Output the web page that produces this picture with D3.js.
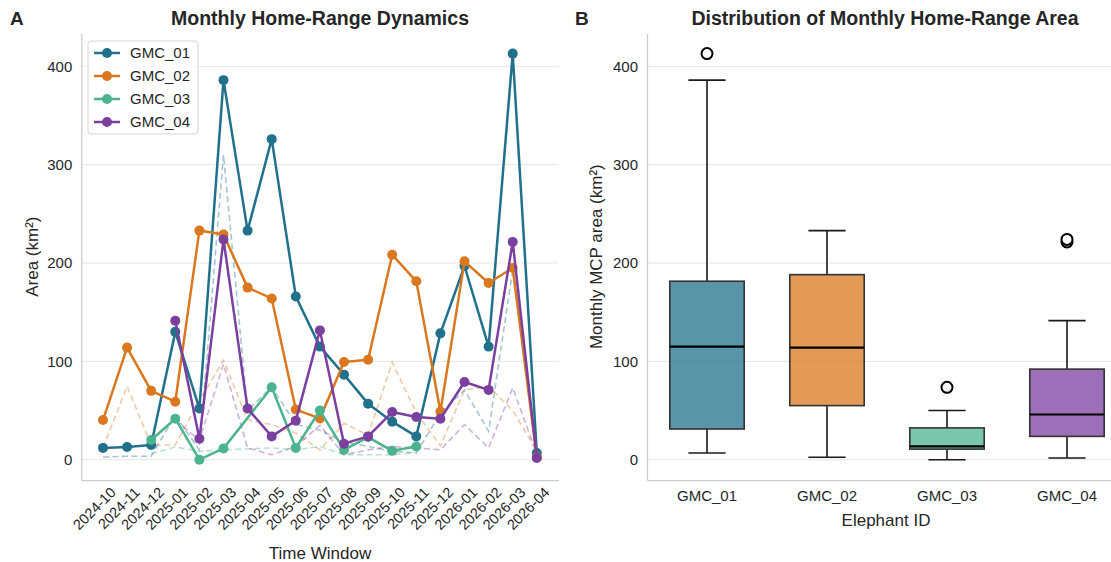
<!DOCTYPE html>
<html>
<head>
<meta charset="utf-8">
<script src="https://cdn.jsdelivr.net/npm/d3@7"></script>
<style>
  html, body { margin: 0; padding: 0; background: #fff; }
  svg { display: block; font-family: "Liberation Sans", Arial, sans-serif; }
</style>
</head>
<body>
<svg id="chart" width="1111" height="562"></svg>
<script>
// ---------------- DATA ----------------
const months = ["2024-10","2024-11","2024-12","2025-01","2025-02","2025-03","2025-04","2025-05","2025-06","2025-07",
                "2025-08","2025-09","2025-10","2025-11","2025-12","2026-01","2026-02","2026-03","2026-04"];
const elephants = ["GMC_01","GMC_02","GMC_03","GMC_04"];
const colors = ["#21718c","#d9781e","#4cb38f","#7b3fa0"];

// Monthly MCP area (solid lines)
const gmc01 = [12, 13, 15, 130, 52, 386, 233, 326, 166, 115, 86.5, 57, 38.7, 23.7, 128.5, 197, 115, 413, 6.8];
const gmc02 = [40.3, 114, 70, 59, 233, 229, 175, 164, 51, 42, 99.4, 101.7, 208.5, 181.4, 49, 201.7, 179.7, 195, 2.5];
const gmc03 = [null, null, 20, 41.7, 0, 11.5, null, 73.6, 12, 50, 10, 23, 9, 13.5, null, null, null, null, null];
const gmc04 = [null, null, null, 141.4, 21.4, 224, 52, 23.7, 39.7, 131.5, 16.3, 23.7, 48.5, 43.4, 41.7, 79, 71, 221.5, 1.7];

// Secondary (dashed, faint) series
const gmc01b = [2.7, 3.5, 3.5, 45, 10, 310, 50, 74, 36, 30, 18, 13.5, 8.5, 7, 47, 71, 29, 193, 7];
const gmc02b = [12, 74.6, 15, 15, 60, 101, 40.7, 35.6, 27, 10, 37, 25, 98.7, 48, 14, 71, 74.6, 50, 9];
const gmc03b = [null, null, 6, 13, 8.5, 10, null, 12, 10, 13.5, 5, 5, 5, 7, null, null, null, null, null];
const gmc04b = [null, null, null, 40, 20, 97, 12, 5, 13.5, 35, 5, 10, 13.5, 12, 10, 35.6, 12, 73, 6];

const yTicks = [0, 100, 200, 300, 400];

const solid = [gmc01, gmc02, gmc03, gmc04];
const dashed = [gmc01b, gmc02b, gmc03b, gmc04b];

// ---------------- SETUP ----------------
const svg = d3.select("#chart");
const textCol = "#262626";
const gridCol = "#e6e6e6";
const spineCol = "#cccccc";
const FONT = "Liberation Sans, Arial, sans-serif";

const yDom = [-20.65, 433.65];
const plotTop = 33.3, plotBottom = 480;

// ---------- Panel A ----------
const xA = d3.scaleLinear().domain([-0.9, months.length - 1 + 0.9]).range([81.3, 558.5]);
const yA = d3.scaleLinear().domain(yDom).range([plotBottom, plotTop]);

const gA = svg.append("g");
gA.selectAll("line.grid").data(yTicks).join("line")
  .attr("x1", xA.range()[0]).attr("x2", xA.range()[1])
  .attr("y1", d => yA(d)).attr("y2", d => yA(d))
  .attr("stroke", gridCol).attr("stroke-width", 1);

const yAxisA = gA.append("g").attr("transform", `translate(${xA.range()[0]},0)`)
  .call(d3.axisLeft(yA).tickValues(yTicks).tickSize(0).tickPadding(9));
yAxisA.select(".domain").attr("stroke", spineCol).attr("stroke-width", 1.25);
yAxisA.selectAll("text").attr("font-size", 15).attr("fill", textCol).attr("font-family", FONT);

const xAxisA = gA.append("g").attr("transform", `translate(0,${plotBottom})`)
  .call(d3.axisBottom(xA).tickValues(d3.range(months.length)).tickFormat(i => months[i]).tickSize(0).tickPadding(8));
xAxisA.select(".domain").attr("stroke", spineCol).attr("stroke-width", 1.25);
xAxisA.selectAll("text")
  .attr("font-size", 14.5).attr("fill", textCol).attr("font-family", FONT)
  .attr("text-anchor", "end")
  .attr("dy", "0.35em")
  .attr("transform", "translate(4,4) rotate(-45)");

const lineGen = d3.line().x(d => xA(d.i)).y(d => yA(d.v));
function pts(arr) { return arr.map((v, i) => ({ i, v })).filter(d => d.v !== null); }

dashed.forEach((arr, k) => {
  gA.append("path").datum(pts(arr))
    .attr("d", lineGen).attr("fill", "none")
    .attr("stroke", colors[k]).attr("stroke-width", 1.6)
    .attr("stroke-opacity", 0.4).attr("stroke-dasharray", "6,3.5");
});
solid.forEach((arr, k) => {
  const g = gA.append("g");
  g.append("path").datum(pts(arr))
    .attr("d", lineGen).attr("fill", "none")
    .attr("stroke", colors[k]).attr("stroke-width", 2.5).attr("stroke-linejoin", "round");
  g.selectAll("circle").data(pts(arr)).join("circle")
    .attr("cx", d => xA(d.i)).attr("cy", d => yA(d.v)).attr("r", 5)
    .attr("fill", colors[k]);
});

// legend
const leg = gA.append("g").attr("transform", "translate(88,41)");
leg.append("rect").attr("x", 0).attr("y", 0).attr("width", 110).attr("height", 93)
  .attr("rx", 3).attr("fill", "#fff").attr("fill-opacity", 0.85).attr("stroke", "#d5d5d5");
elephants.forEach((name, k) => {
  const yy = 12 + k * 23;
  leg.append("line").attr("x1", 6).attr("x2", 32).attr("y1", yy).attr("y2", yy)
    .attr("stroke", colors[k]).attr("stroke-width", 2.5);
  leg.append("circle").attr("cx", 19).attr("cy", yy).attr("r", 5).attr("fill", colors[k]);
  leg.append("text").attr("x", 42).attr("y", yy).attr("dy", "0.35em")
    .attr("font-size", 15).attr("fill", textCol).text(name);
});

// labels
gA.append("text").attr("x", 320).attr("y", 559)
  .attr("text-anchor", "middle").attr("font-size", 17).attr("fill", textCol).text("Time Window");
gA.append("text").attr("transform", `translate(38,${(plotTop + plotBottom) / 2}) rotate(-90)`)
  .attr("text-anchor", "middle").attr("font-size", 17).attr("fill", textCol).text("Area (km²)");
gA.append("text").attr("x", 320).attr("y", 25)
  .attr("text-anchor", "middle").attr("font-size", 19.5).attr("font-weight", "bold").attr("fill", textCol)
  .text("Monthly Home-Range Dynamics");
svg.append("text").attr("x", 10).attr("y", 25).attr("font-size", 19).attr("font-weight", "bold")
  .attr("fill", textCol).text("A");

// ---------- Panel B ----------
const xB = d3.scaleBand().domain(elephants).range([647, 1127]).paddingInner(0).paddingOuter(0);
const yB = d3.scaleLinear().domain(yDom).range([plotBottom, plotTop]);
const gB = svg.append("g");

gB.selectAll("line.grid").data(yTicks).join("line")
  .attr("x1", xB.range()[0]).attr("x2", xB.range()[1])
  .attr("y1", d => yB(d)).attr("y2", d => yB(d))
  .attr("stroke", gridCol).attr("stroke-width", 1);

const yAxisB = gB.append("g").attr("transform", `translate(${xB.range()[0]},0)`)
  .call(d3.axisLeft(yB).tickValues(yTicks).tickSize(0).tickPadding(9));
yAxisB.select(".domain").attr("stroke", spineCol).attr("stroke-width", 1.25);
yAxisB.selectAll("text").attr("font-size", 15).attr("fill", textCol).attr("font-family", FONT);

const xAxisB = gB.append("g").attr("transform", `translate(0,${plotBottom})`)
  .call(d3.axisBottom(xB).tickSize(0).tickPadding(10));
xAxisB.select(".domain").attr("stroke", spineCol).attr("stroke-width", 1.25);
xAxisB.selectAll("text").attr("font-size", 15).attr("fill", textCol).attr("font-family", FONT);

function quant(sorted, p) {
  const pos = (sorted.length - 1) * p;
  const lo = Math.floor(pos), hi = Math.ceil(pos);
  return sorted[lo] + (sorted[hi] - sorted[lo]) * (pos - lo);
}

const boxW = xB.bandwidth() * 0.62;
solid.forEach((arr, k) => {
  const vals = arr.filter(v => v !== null).sort((a, b) => a - b);
  const q1 = quant(vals, 0.25), med = quant(vals, 0.5), q3 = quant(vals, 0.75);
  const iqr = q3 - q1;
  const loF = q1 - 1.5 * iqr, hiF = q3 + 1.5 * iqr;
  const inside = vals.filter(v => v >= loF && v <= hiF);
  const wLo = d3.min(inside), wHi = d3.max(inside);
  const outl = vals.filter(v => v < loF || v > hiF);
  const cx = xB(elephants[k]) + xB.bandwidth() / 2;
  const g = gB.append("g");
  g.append("line").attr("x1", cx).attr("x2", cx).attr("y1", yB(q3)).attr("y2", yB(wHi))
    .attr("stroke", "#1a1a1a").attr("stroke-width", 1.6);
  g.append("line").attr("x1", cx).attr("x2", cx).attr("y1", yB(q1)).attr("y2", yB(wLo))
    .attr("stroke", "#1a1a1a").attr("stroke-width", 1.6);
  [wLo, wHi].forEach(w => {
    g.append("line").attr("x1", cx - boxW / 4).attr("x2", cx + boxW / 4)
      .attr("y1", yB(w)).attr("y2", yB(w)).attr("stroke", "#1a1a1a").attr("stroke-width", 1.6);
  });
  g.append("rect").attr("x", cx - boxW / 2).attr("width", boxW)
    .attr("y", yB(q3)).attr("height", yB(q1) - yB(q3))
    .attr("fill", colors[k]).attr("fill-opacity", 0.75)
    .attr("stroke", "#333").attr("stroke-width", 1.6);
  g.append("line").attr("x1", cx - boxW / 2).attr("x2", cx + boxW / 2)
    .attr("y1", yB(med)).attr("y2", yB(med)).attr("stroke", "#000").attr("stroke-width", 2.2);
  g.selectAll("circle").data(outl).join("circle")
    .attr("cx", cx).attr("cy", d => yB(d)).attr("r", 5.5)
    .attr("fill", "#fff").attr("stroke", "#000").attr("stroke-width", 2);
});

gB.append("text").attr("x", 886).attr("y", 526)
  .attr("text-anchor", "middle").attr("font-size", 17).attr("fill", textCol).text("Elephant ID");
gB.append("text").attr("transform", `translate(602,${(plotTop + plotBottom) / 2}) rotate(-90)`)
  .attr("text-anchor", "middle").attr("font-size", 17).attr("fill", textCol).text("Monthly MCP area (km²)");
gB.append("text").attr("x", 885).attr("y", 25)
  .attr("text-anchor", "middle").attr("font-size", 19.5).attr("font-weight", "bold").attr("fill", textCol)
  .text("Distribution of Monthly Home-Range Area");
svg.append("text").attr("x", 575).attr("y", 25).attr("font-size", 19).attr("font-weight", "bold")
  .attr("fill", textCol).text("B");
</script>
</body>
</html>
